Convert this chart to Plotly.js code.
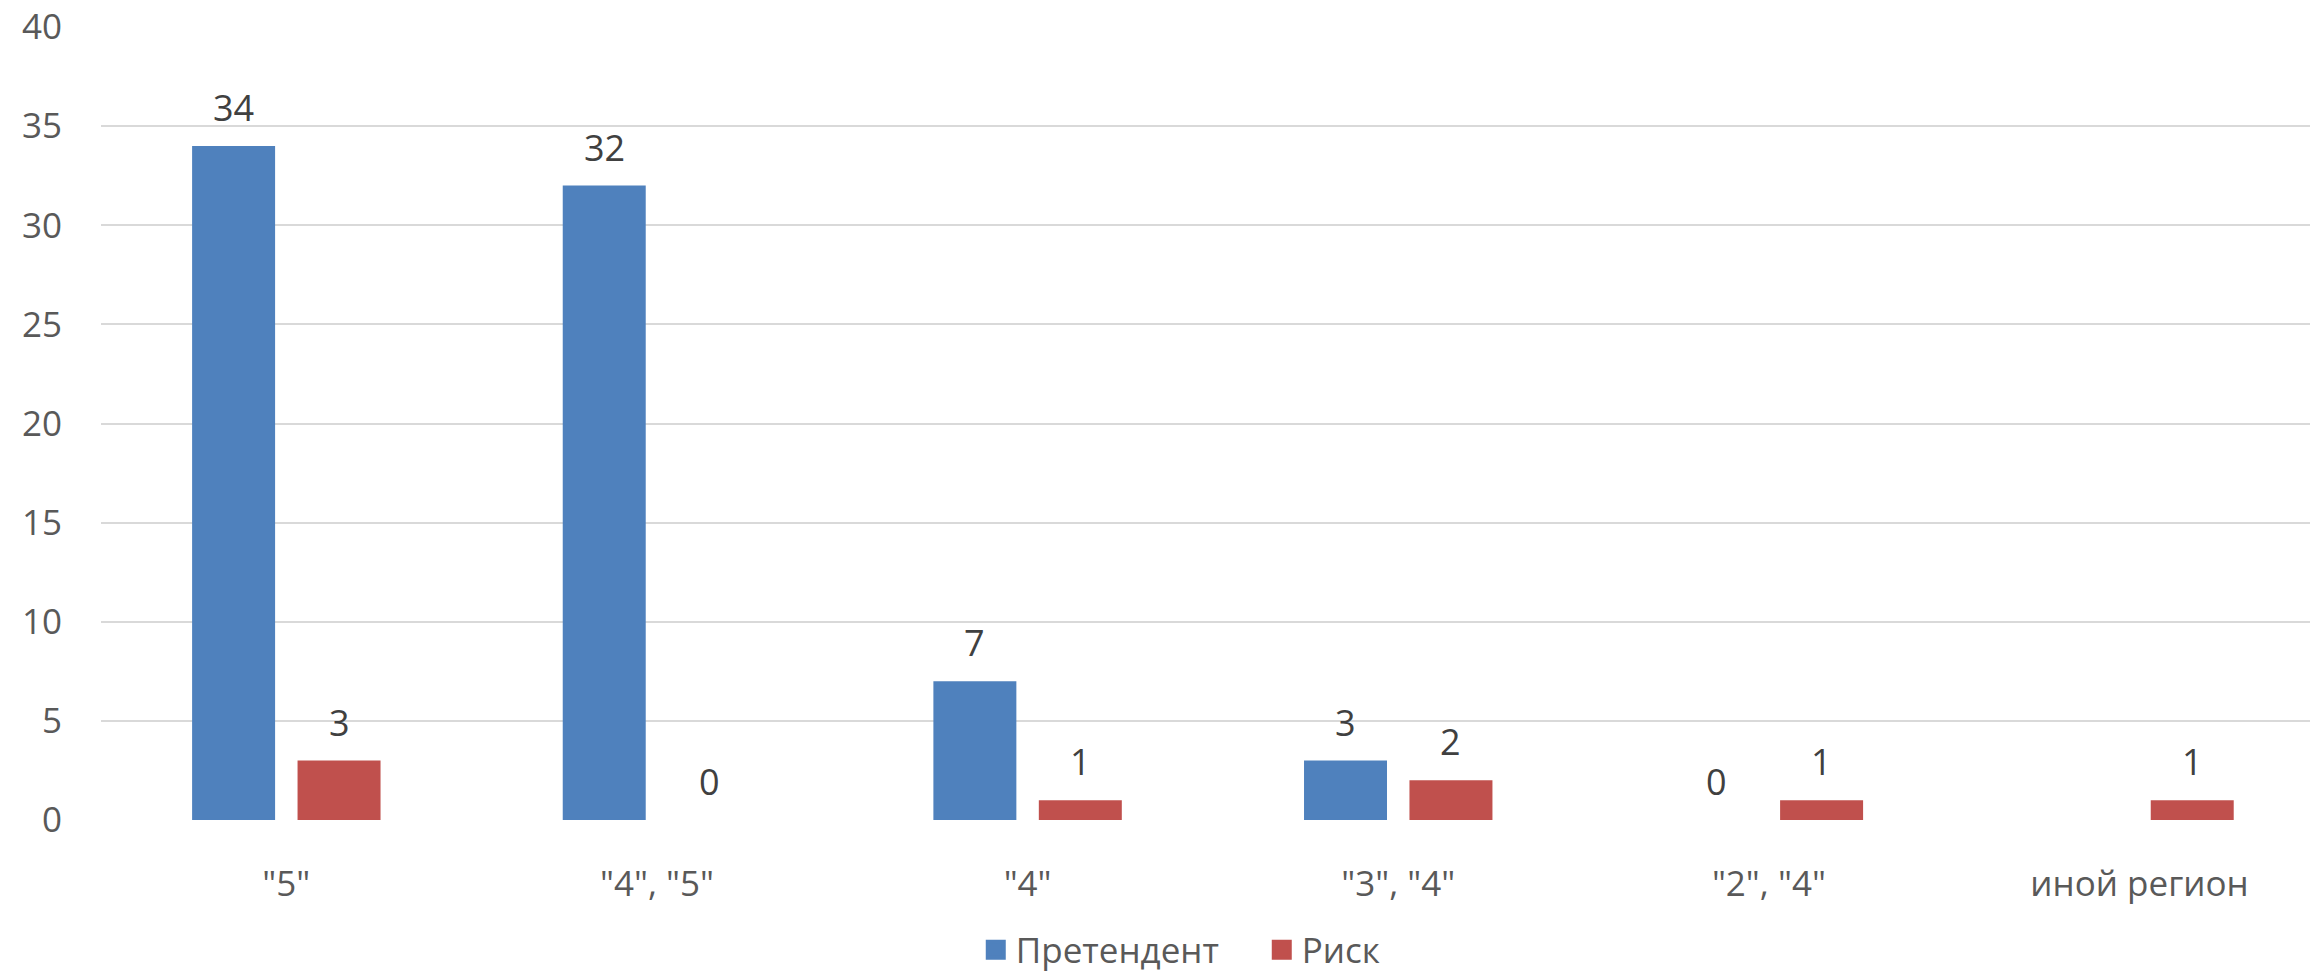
<!DOCTYPE html>
<html>
<head>
<meta charset="utf-8">
<script src="https://cdn.plot.ly/plotly-3.0.1.min.js"></script>
<style>
html,body{margin:0;padding:0;background:#fff;}
#chart{width:2310px;height:972px;}
</style>
</head>
<body>
<div id="chart"></div>
<script>
const categories = ['"5"', '"4", "5"', '"4"', '"3", "4"', '"2", "4"', 'иной регион'];
const seriesNames = ['Претендент', 'Риск'];
const pretendent = [34, 32, 7, 3, 0, null];
const risk = [3, 0, 1, 2, 1, 1];
const yTicks = [0, 5, 10, 15, 20, 25, 30, 35, 40];
const colors = ['#4F81BD', '#C0504D'];

const series = [pretendent, risk];
const FONT = '"Open Sans", "Noto Sans", sans-serif';

const traces = series.map((vals, i) => ({
  type: 'bar',
  name: seriesNames[i],
  x: categories,
  y: vals,
  marker: {color: colors[i]},
  showlegend: false,
  hoverinfo: 'skip'
}));

// legend proxies (larger square symbols)
series.forEach((vals, i) => {
  traces.push({
    type: 'scatter',
    mode: 'markers',
    name: seriesNames[i],
    x: [null], y: [null],
    marker: {symbol: 'square', size: 16, color: colors[i], line: {color: colors[i], width: 4}},
    showlegend: true,
    hoverinfo: 'skip'
  });
});

// data labels above each bar
const annotations = [];
series.forEach((vals, i) => {
  vals.forEach((v, j) => {
    if (v === null) return;
    annotations.push({
      x: categories[j], y: v, xref: 'x', yref: 'y',
      text: String(v), showarrow: false,
      xshift: (i === 0 ? -1 : 1) * 52.7,
      yanchor: 'bottom', yshift: 12,
      font: {family: FONT, size: 36, color: '#404040'}
    });
  });
});

const layout = {
  width: 2310, height: 972,
  margin: {l: 101, r: 0, t: 27, b: 152, autoexpand: false},
  paper_bgcolor: '#fff', plot_bgcolor: '#fff',
  barmode: 'group',
  bargap: 0.431,
  bargroupgap: 0.213,
  font: {family: FONT, size: 34, color: '#595959'},
  xaxis: {
    type: 'category',
    range: [-0.5, 5.46],
    showgrid: false, zeroline: false, showline: false,
    ticks: '', ticklabelstandoff: 40,
    tickfont: {family: FONT, size: 35, color: '#595959'},
    fixedrange: true
  },
  yaxis: {
    range: [0, 40],
    tickvals: yTicks,
    ticktext: yTicks.map(String),
    showgrid: true, gridcolor: '#D9D9D9', gridwidth: 2,
    zeroline: false, showline: false,
    ticks: '', ticklabelstandoff: 38,
    tickfont: {family: FONT, size: 35, color: '#595959'},
    fixedrange: true
  },
  showlegend: true,
  legend: {
    orientation: 'h',
    x: 0.396, xanchor: 'left',
    y: -0.164, yanchor: 'middle',
    font: {family: FONT, size: 35, color: '#595959'},
    itemwidth: 30,
    entrywidth: 241,
    bgcolor: 'rgba(0,0,0,0)'
  },
  annotations: annotations
};

Plotly.newPlot('chart', traces, layout, {displayModeBar: false, staticPlot: true});
</script>
</body>
</html>
